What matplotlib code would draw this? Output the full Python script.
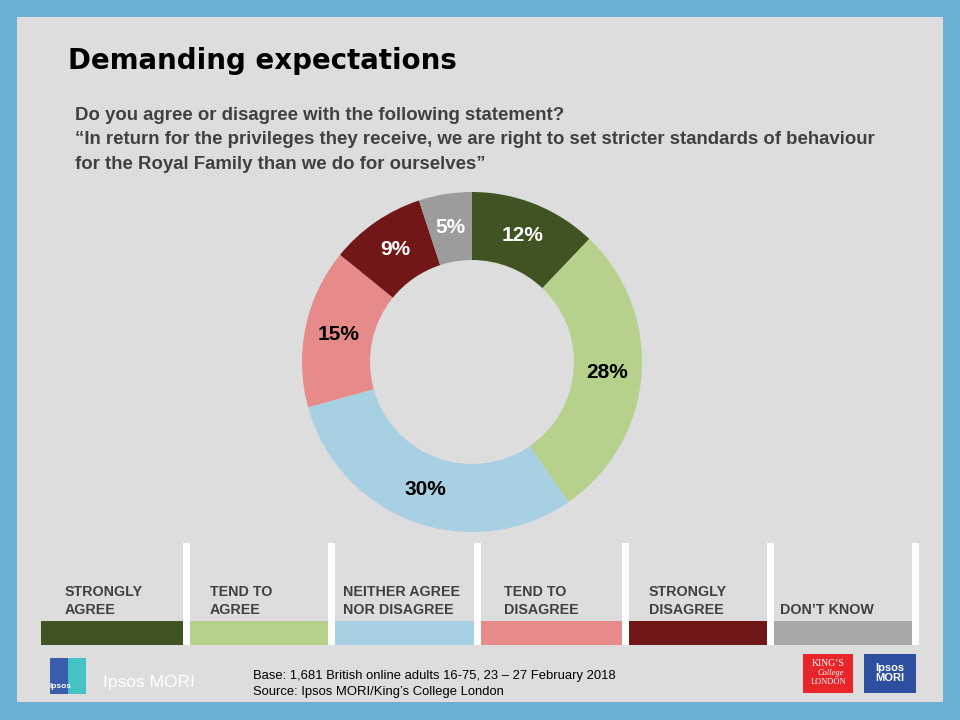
import matplotlib
matplotlib.use("Agg")
import numpy as np
import matplotlib.pyplot as plt
from matplotlib.patches import Rectangle

plt.rcParams['font.family'] = ['Liberation Sans', 'DejaVu Sans']

# data
categories = ["STRONGLY\nAGREE", "TEND TO\nAGREE", "NEITHER AGREE\nNOR DISAGREE",
              "TEND TO\nDISAGREE", "STRONGLY\nDISAGREE", "DON\u2019T KNOW"]
values = [12, 28, 30, 15, 9, 5]
colors = ["#3f5323", "#b5d18b", "#a8d0e3", "#e68a8a", "#721718", "#9c9c9c"]
legend_colors = ["#3f5323", "#b5d18b", "#a8d0e3", "#e68a8a", "#721718", "#a8a8a8"]
label_colors = ["white", "black", "black", "black", "white", "white"]

title = "Demanding expectations"
question = ("Do you agree or disagree with the following statement?\n"
            "\u201cIn return for the privileges they receive, we are right to set stricter standards of behaviour\n"
            "for the Royal Family than we do for ourselves\u201d")
footnote = ("Base: 1,681 British online adults 16-75, 23 \u2013 27 February 2018\n"
            "Source: Ipsos MORI/King\u2019s College London")

fig = plt.figure(figsize=(9.6, 7.2), dpi=100)
fig.patch.set_facecolor("#6aafd4")

# background canvas in pixel coordinates
bg = fig.add_axes([0, 0, 1, 1])
bg.set_xlim(0, 960)
bg.set_ylim(720, 0)
bg.axis("off")
bg.add_patch(Rectangle((17, 17), 926, 685, facecolor="#dddddd", edgecolor="none"))

bg.text(68, 61, title, fontsize=19.9, fontweight="bold", color="black",
        family=["DejaVu Sans"], va="center", ha="left")
bg.text(75, 140, question, fontsize=13.45, fontweight="bold", color="#404040",
        va="center", ha="left", linespacing=1.6)

# legend strip
x0 = 41
edges = [183, 328, 474, 622, 767, 912]
label_x = [65, 210, 343, 504, 649, 780]
left = x0
for i, (c, e) in enumerate(zip(legend_colors, edges)):
    bg.add_patch(Rectangle((left, 621), e - left, 24, facecolor=c, edgecolor="none"))
    bg.add_patch(Rectangle((e, 543), 7, 102, facecolor="white", edgecolor="none"))
    bg.text(label_x[i], 614, categories[i], fontsize=10.3, fontweight="bold",
            color="#404040", va="baseline", ha="left", linespacing=1.38)
    left = e + 7

# footer
bg.text(253, 684, footnote, fontsize=9.4, color="black", va="center", ha="left",
        family=["Liberation Sans Narrow", "Liberation Sans"], linespacing=1.55)

# Ipsos logo left
bg.add_patch(Rectangle((50, 658), 36, 36, facecolor="#3a5eab", edgecolor="none"))
bg.add_patch(Rectangle((68, 658), 18, 36, facecolor="#45c2c2", edgecolor="none"))
bg.text(60, 687, "Ipsos", fontsize=6, color="white", va="center", ha="center", fontweight="bold")
bg.text(103, 683, "Ipsos MORI", fontsize=12.5, color="white", va="center", ha="left",
        family=["Liberation Sans Narrow", "Liberation Sans"])

# King's College London logo
bg.add_patch(Rectangle((803, 654), 50, 39, facecolor="#e8262a", edgecolor="none"))
bg.text(828, 664, "KING\u2019S", fontsize=7, color="white", va="center", ha="center", family=["Liberation Serif"])
bg.text(831, 673, "College", fontsize=6, color="white", va="center", ha="center",
        family=["Liberation Serif"], style="italic")
bg.text(828, 682, "LONDON", fontsize=6, color="white", va="center", ha="center", family=["Liberation Serif"])

# Ipsos MORI logo right
bg.add_patch(Rectangle((864, 654), 52, 39, facecolor="#2e4ea0", edgecolor="none"))
bg.text(890, 673, "Ipsos\nMORI", fontsize=8, color="white", va="center", ha="center",
        fontweight="bold", linespacing=1.1)

# donut
cx, cy, r = 472, 362, 170
ax = fig.add_axes([(cx - r) / 960, (720 - cy - r) / 720, 2 * r / 960, 2 * r / 720])
ax.set_facecolor("none")
wedges, texts = ax.pie(values, colors=colors, startangle=90, counterclock=False,
                       radius=1, wedgeprops=dict(width=0.4, edgecolor="none"))
total = sum(values)
ang = 90.0
for v, tc in zip(values, label_colors):
    mid = np.deg2rad(ang - 360.0 * v / total / 2)
    ax.text(0.8 * np.cos(mid), 0.8 * np.sin(mid), f"{v}%", ha="center", va="center",
            fontsize=15, fontweight="bold", color=tc)
    ang -= 360.0 * v / total
ax.set_xlim(-1, 1)
ax.set_ylim(-1, 1)
ax.set_aspect("equal")
ax.axis("off")

fig.savefig("out.png", dpi=100, facecolor=fig.get_facecolor())
